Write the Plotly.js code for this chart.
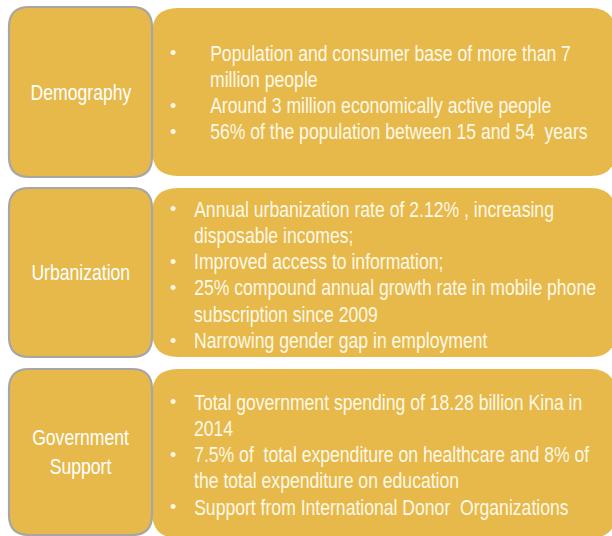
<!DOCTYPE html>
<html><head><meta charset="utf-8">
<script src="https://cdn.plot.ly/plotly-3.0.1.min.js"></script>
<style>html,body{margin:0;padding:0;background:#fff;}#chart{width:612px;height:536px;}</style>
</head><body><div id="chart"></div>
<script>
// ---- content ----
var categories = [["Demography"], ["Urbanization"], ["Government", "Support"]];
var demographyItems = [
  ["Population and consumer base of more than 7", "million people"],
  ["Around 3 million economically active people"],
  ["56% of the population between 15 and 54  years"]
];
var urbanizationItems = [
  ["Annual urbanization rate of 2.12% , increasing", "disposable incomes;"],
  ["Improved access to information;"],
  ["25% compound annual growth rate in mobile phone", "subscription since 2009"],
  ["Narrowing gender gap in employment"]
];
var governmentItems = [
  ["Total government spending of 18.28 billion Kina in", "2014"],
  ["7.5% of  total expenditure on healthcare and 8% of", "the total expenditure on education"],
  ["Support from International Donor  Organizations"]
];
var sections = [demographyItems, urbanizationItems, governmentItems];

// ---- layout / style ----
var FILL = '#E6B94A';
var BORDER = '#A6A6A6';
var FONT = '"Liberation Sans", Arial, sans-serif';
var NARROW = 0.8; // horizontal condensing to mimic a narrow face
var boxes = [
  {top: 7, bottom: 177, rTop: 8, rBottom: 176, textStart: 53, textX: 208},
  {top: 188, bottom: 357, rTop: 188, rBottom: 357, textStart: 209, textX: 192},
  {top: 369, bottom: 535, rTop: 369, rBottom: 538, textStart: 402, textX: 192}
];
var LINE_H = 26.3;

function rr(x0, y0, x1, y1, r) {
  return 'M' + (x0 + r) + ',' + y0 + ' L' + (x1 - r) + ',' + y0 +
    ' Q' + x1 + ',' + y0 + ' ' + x1 + ',' + (y0 + r) +
    ' L' + x1 + ',' + (y1 - r) +
    ' Q' + x1 + ',' + y1 + ' ' + (x1 - r) + ',' + y1 +
    ' L' + (x0 + r) + ',' + y1 +
    ' Q' + x0 + ',' + y1 + ' ' + x0 + ',' + (y1 - r) +
    ' L' + x0 + ',' + (y0 + r) +
    ' Q' + x0 + ',' + y0 + ' ' + (x0 + r) + ',' + y0 + ' Z';
}

var shapes = [];
var annotations = [];
boxes.forEach(function (b, i) {
  shapes.push({type: 'path', xref: 'x', yref: 'y', path: rr(152, b.rTop, 616, b.rBottom, 26),
    fillcolor: FILL, line: {width: 0}, layer: 'below'});
  shapes.push({type: 'path', xref: 'x', yref: 'y', path: rr(9, b.top, 152, b.bottom, 20),
    fillcolor: FILL, line: {color: BORDER, width: 2.2}, layer: 'below'});
  annotations.push({xref: 'x', yref: 'y', x: 80.5, y: (b.top + b.bottom) / 2,
    text: categories[i].join('<br>'), showarrow: false, xanchor: 'center', yanchor: 'middle',
    font: {family: FONT, size: 22, color: '#FFFFFF'}, align: 'center'});
  var li = 0;
  sections[i].forEach(function (item) {
    annotations.push({xref: 'x', yref: 'y', x: 173, y: b.textStart + li * LINE_H,
      text: '•', showarrow: false, xanchor: 'center', yanchor: 'middle',
      font: {family: FONT, size: 18, color: '#FFF8E8'}});
    item.forEach(function (line) {
      annotations.push({xref: 'x', yref: 'y', x: b.textX, y: b.textStart + li * LINE_H,
        text: line, showarrow: false, xanchor: 'left', yanchor: 'middle',
        font: {family: FONT, size: 22, color: '#FFF8E8'}});
      li++;
    });
  });
});

var layout = {
  width: 612, height: 536,
  margin: {l: 0, r: 0, t: 0, b: 0},
  paper_bgcolor: '#FFFFFF', plot_bgcolor: '#FFFFFF',
  xaxis: {range: [0, 612], visible: false, fixedrange: true},
  yaxis: {range: [536, 0], visible: false, fixedrange: true},
  shapes: shapes, annotations: annotations, showlegend: false
};
Plotly.newPlot('chart', [], layout, {staticPlot: true, displayModeBar: false}).then(function (gd) {
  var groups = gd.querySelectorAll('g.annotation');
  groups.forEach(function (g) {
    var idx = +g.getAttribute('data-index');
    var ann = layout.annotations[idx];
    var t = g.querySelector('text.annotation-text');
    if (!t || ann.text === '•') return;
    var bb = t.getBBox();
    var ox = ann.xanchor === 'left' ? bb.x : bb.x + bb.width / 2;
    t.setAttribute('transform', 'translate(' + ox + ',0) scale(' + NARROW + ',1) translate(' + (-ox) + ',0)');
  });
});
</script></body></html>
